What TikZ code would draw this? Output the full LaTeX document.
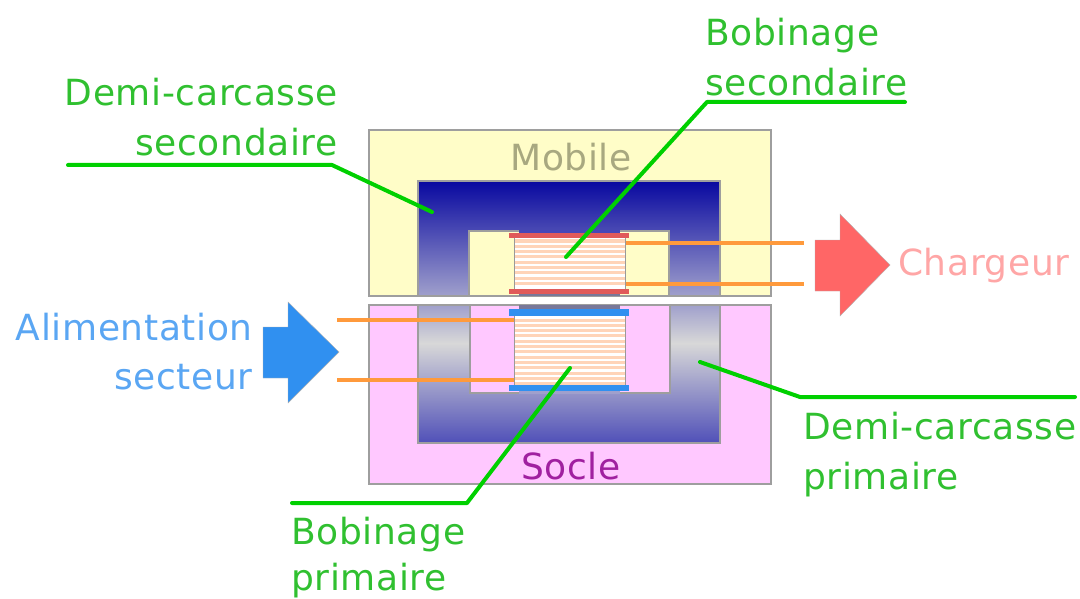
\documentclass[tikz,border=0pt]{standalone}
\usepackage{fontspec}
\setmainfont{DejaVu Sans}[LetterSpace=1.8]
\definecolor{mobilefill}{HTML}{FFFDC8}
\definecolor{soclefill}{HTML}{FFC8FF}
\definecolor{leadgreen}{HTML}{00D000}
\definecolor{textgreen}{HTML}{30C030}
\definecolor{wireorange}{HTML}{FF9A3C}
\definecolor{stripeorange}{HTML}{FFD4B8}
\definecolor{coilred}{HTML}{E05A5A}
\definecolor{coilblue}{HTML}{3090F0}
\definecolor{coreTop}{HTML}{0808A0}
\definecolor{coreLow}{HTML}{A0A0CC}
\definecolor{coreGrey}{HTML}{D8D8D8}
\definecolor{coreEnd}{HTML}{5050B8}
\definecolor{mobiletext}{HTML}{A8A880}
\definecolor{socletext}{HTML}{A020A0}
\pgfdeclareverticalshading{mobileCore}{100bp}{color(0bp)=(coreLow); color(25bp)=(coreLow); color(75bp)=(coreTop); color(100bp)=(coreTop)}
\pgfdeclareverticalshading{socleCore}{100bp}{color(0bp)=(coreEnd); color(25bp)=(coreEnd); color(61.2bp)=(coreGrey); color(75bp)=(coreLow); color(100bp)=(coreLow)}
\tikzset{
  frame/.style={draw=black!38, line width=1.2pt},
  label/.style={anchor=base west, inner sep=0pt, font=\fontsize{36}{40}\selectfont, textgreen},
  leader/.style={draw=leadgreen, line width=4pt, line cap=round, line join=round},
  wire/.style={draw=wireorange, line width=4pt},
  stripe/.style={draw=stripeorange, line width=3pt},
}
\begin{document}
\begin{tikzpicture}[x=1pt, y=-1pt]
  \useasboundingbox (0,0) rectangle (1080,599);
  % Mobile part
  \draw[frame, fill=mobilefill] (369,130) rectangle (771,296);
  \draw[frame, shading=mobileCore] (418,181) rectangle (720,296);
  \draw[frame, fill=mobilefill] (469,231) rectangle (669,296);
  \fill[coreTop!75!white] (519,230) rectangle (620,234);
  \fill[coreLow!75!black] (519,293) rectangle (620,296);
  % Socle part
  \draw[frame, fill=soclefill] (369,305) rectangle (771,484);
  \draw[frame, shading=socleCore] (418,305) rectangle (720,443);
  \draw[frame, fill=soclefill] (470,305) rectangle (670,393);
  \fill[coreLow!75!black] (519,305) rectangle (620,310);
  \fill[coreLow] (519,390) rectangle (620,394);
  % Coils
  \fill[white] (514,236) rectangle (625,292);
  \foreach \y in {241,246.3,...,288} \draw[stripe] (514,\y) -- (625,\y);
  \draw[black!40, line width=1pt] (514,236) rectangle (625,292);
  \fill[white] (514,314) rectangle (625,387);
  \foreach \y in {320,325.3,...,385} \draw[stripe] (514,\y) -- (625,\y);
  \draw[black!40, line width=1pt] (514,314) rectangle (625,387);
  % Flanges
  \fill[coilred] (509,233) rectangle (629,238);
  \fill[coilred] (509,289) rectangle (629,294);
  \fill[coilblue] (509,309) rectangle (629,316);
  \fill[coilblue] (509,385) rectangle (629,391);
  % Wires
  \coordinate (wireA) at (804,243);
  \coordinate (wireB) at (804,284);
  \coordinate (wireC) at (337,320);
  \coordinate (wireD) at (337,380);
  \draw[wire] (626,243) -- (wireA);
  \draw[wire] (626,284) -- (wireB);
  \draw[wire] (wireC) -- (514,320);
  \draw[wire] (wireD) -- (514,380);
  % Arrows
  \fill[fill=red!60!white, draw=black!30] (815,240) -- (840,240) -- (840,214) -- (890,265) -- (840,316) -- (840,291) -- (815,291) -- cycle;
  \fill[fill=coilblue, draw=black!30] (263,327) -- (288,327) -- (288,302) -- (339,352) -- (288,403) -- (288,378) -- (263,378) -- cycle;
  % Labels
  \node[label] (bsA) at (705,46) {Bobinage};
  \node[label] (bsB) at (705,96) {secondaire};
  \node[label, anchor=base east] (dsA) at (338,106) {Demi-carcasse};
  \node[label, anchor=base east] (dsB) at (338,156) {secondaire};
  \node[label, anchor=base, text=mobiletext] (mobile) at (571,171) {Mobile};
  \node[label, anchor=base east, text=coilblue!80!white] (alimA) at (253,340) {Alimentation};
  \node[label, anchor=base east, text=coilblue!80!white] (alimB) at (253,389) {secteur};
  \node[label, text=red!35!white] (charge) at (898,276) {Chargeur};
  \node[label] (dpA) at (803,439) {Demi-carcasse};
  \node[label] (dpB) at (803,489) {primaire};
  \node[label, anchor=base, text=socletext] (socle) at (571,479) {Socle};
  \node[label] (bpA) at (291,544) {Bobinage};
  \node[label] (bpB) at (291,590) {primaire};
  % Leaders
  \coordinate (bsEnd) at (905,102);
  \coordinate (bsKnee) at (707,102);
  \coordinate (bsTip) at (566,257);
  \coordinate (dsEnd) at (68,165);
  \coordinate (dsKnee) at (332,165);
  \coordinate (dsTip) at (432,212);
  \coordinate (bpEnd) at (292,503);
  \coordinate (bpKnee) at (467,503);
  \coordinate (bpTip) at (570,368);
  \coordinate (dpEnd) at (1075,397);
  \coordinate (dpKnee) at (800,397);
  \coordinate (dpTip) at (700,362);
  \draw[leader] (bsEnd) -- (bsKnee) -- (bsTip);
  \draw[leader] (dsEnd) -- (dsKnee) -- (dsTip);
  \draw[leader] (bpEnd) -- (bpKnee) -- (bpTip);
  \draw[leader] (dpEnd) -- (dpKnee) -- (dpTip);
\end{tikzpicture}
\end{document}
